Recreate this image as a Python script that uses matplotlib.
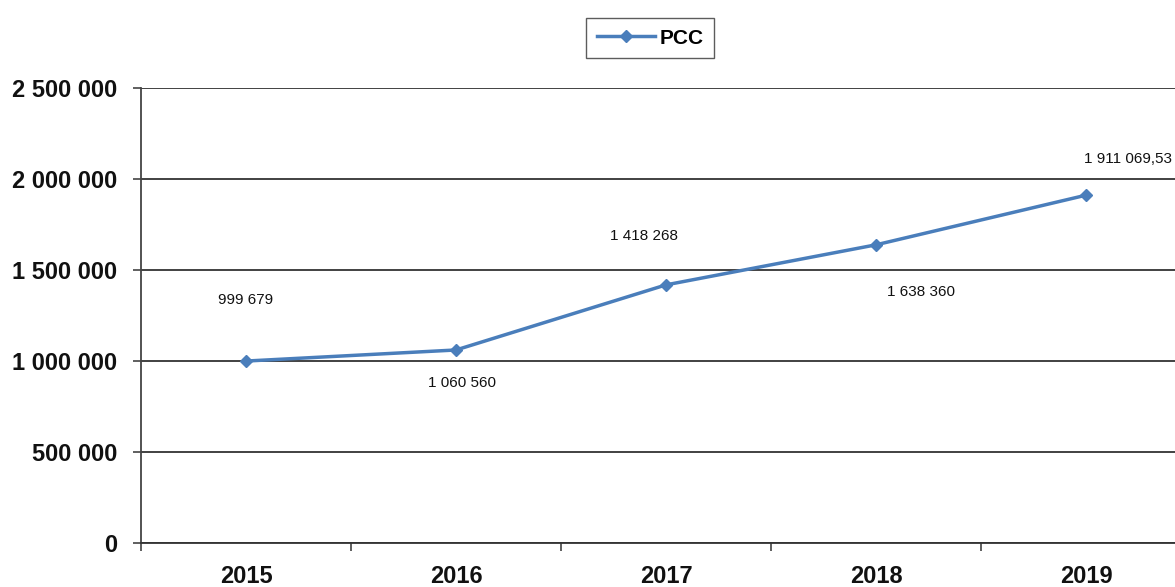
import matplotlib
matplotlib.use("Agg")
import matplotlib.pyplot as plt
from matplotlib.ticker import FuncFormatter, FixedLocator

# données PCC
years = ['2015', '2016', '2017', '2018', '2019']
pcc = [999679, 1060560, 1418268, 1638360, 1911069.53]
labels = ['999 679', '1 060 560', '1 418 268', '1 638 360', '1 911 069,53']
# décalage des étiquettes (pixels)
offsets = [(0, 61), (6, -33), (-22, 49), (45, -47), (42, 36)]

plt.rcParams['font.family'] = ['Liberation Sans', 'DejaVu Sans']

fig = plt.figure(figsize=(11.75, 5.87), dpi=100)
ax = fig.add_axes([141/1175, 44/587, 1050/1175, 455/587])

x = list(range(len(years)))
ax.plot(x, pcc, color='#4a7ebb', lw=2.5, marker='D', ms=6, label='PCC', zorder=3)

for xi, v, t, off in zip(x, pcc, labels, offsets):
    ax.annotate(t, (xi, v), xytext=off, textcoords='offset pixels',
                ha='center', va='center', fontsize=11, color='#111111')

ax.set_xlim(-0.5, len(years) - 0.5)
ax.set_ylim(0, 2500000)
ax.set_yticks([0, 500000, 1000000, 1500000, 2000000, 2500000])
ax.yaxis.set_major_formatter(FuncFormatter(lambda v, p: f"{int(v):,}".replace(',', ' ')))
ax.grid(axis='y', color='#333333', lw=1.3)
ax.set_axisbelow(True)

ax.set_xticks(x)
ax.set_xticklabels(years)
ax.xaxis.set_minor_locator(FixedLocator([i - 0.5 for i in range(len(years) + 1)]))
ax.tick_params(axis='x', which='major', length=0, pad=16, labelsize=17)
ax.tick_params(axis='x', which='minor', length=6, width=1.2, color='#444444')
ax.tick_params(axis='y', length=6, width=1.2, color='#444444', pad=11, labelsize=17)
for lab in ax.get_xticklabels() + ax.get_yticklabels():
    lab.set_fontweight('bold')
    lab.set_color('#111111')

for s in ['top', 'right']:
    ax.spines[s].set_visible(False)
ax.spines['left'].set_color('#444444')
ax.spines['left'].set_linewidth(1.3)
ax.spines['bottom'].set_color('#333333')
ax.spines['bottom'].set_linewidth(1.3)

leg = fig.legend(loc='center', bbox_to_anchor=(650/1175, 1 - 38/587), frameon=True,
                 fancybox=False, edgecolor='#333333', handlelength=2.8,
                 handletextpad=0.2, borderpad=0.5, prop={'weight': 'bold', 'size': 15})

fig.savefig('out.png', dpi=100)
